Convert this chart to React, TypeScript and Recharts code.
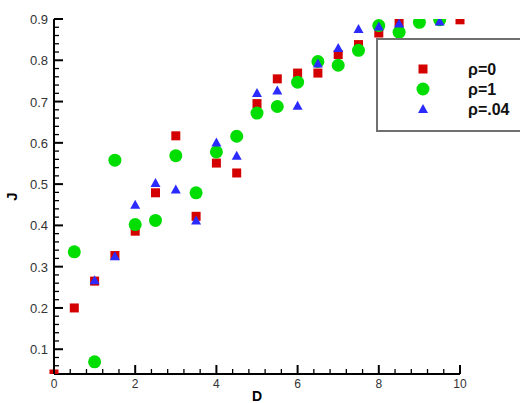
import React from "react";
import { ScatterChart, Scatter, XAxis, YAxis } from "recharts";

// D values and J values per series
const dRho0 = [0, 0.5, 1, 1.5, 2, 2.5, 3, 3.5, 4, 4.5, 5, 5.5, 6, 6.5, 7, 7.5, 8, 8.5, 9.5, 10];
const jRho0 = [0.04, 0.2, 0.265, 0.327, 0.386, 0.479, 0.617, 0.422, 0.551, 0.527, 0.695, 0.755, 0.769, 0.769, 0.814, 0.838, 0.866, 0.89, 0.906, 0.898];

const dRho1 = [0.5, 1, 1.5, 2, 2.5, 3, 3.5, 4, 4.5, 5, 5.5, 6, 6.5, 7, 7.5, 8, 8.5, 9, 9.5];
const jRho1 = [0.336, 0.0695, 0.558, 0.402, 0.412, 0.569, 0.479, 0.578, 0.616, 0.672, 0.688, 0.747, 0.797, 0.788, 0.824, 0.884, 0.868, 0.892, 0.898];

const dRho04 = [1, 1.5, 2, 2.5, 3, 3.5, 4, 4.5, 5, 5.5, 6, 6.5, 7, 7.5, 8, 8.5, 9.5];
const jRho04 = [0.267, 0.325, 0.45, 0.503, 0.487, 0.412, 0.601, 0.569, 0.721, 0.727, 0.69, 0.792, 0.83, 0.876, 0.882, 0.889, 0.894];

const seriesNames = ["ρ=0", "ρ=1", "ρ=.04"];
const seriesColors = ["#d40000", "#00dd00", "#2b2bff"];

const xMajor = [0, 2, 4, 6, 8, 10];
const yMajor = [0.1, 0.2, 0.3, 0.4, 0.5, 0.6, 0.7, 0.8, 0.9];

// minor ticks: every 0.4 on D, every 0.02 on J
const xTicks: number[] = [];
for (let i = 0; i <= 25; i++) xTicks.push(Math.round(i * 4) / 10);
const yTicks: number[] = [];
for (let i = 3; i <= 45; i++) yTicks.push(Math.round(i * 2) / 100);

const toRows = (ds: number[], js: number[]) => ds.map((d, i) => ({ d, j: js[i] }));

const Square = ({ cx, cy, fill }: any) => (
  <rect x={cx - 4.5} y={cy - 4.5} width={9} height={9} fill={fill} />
);
const Circle = ({ cx, cy, fill }: any) => <circle cx={cx} cy={cy} r={6.5} fill={fill} />;
const Triangle = ({ cx, cy, fill }: any) => (
  <polygon points={`${cx},${cy - 5} ${cx - 5},${cy + 4} ${cx + 5},${cy + 4}`} fill={fill} />
);
const shapes = [Square, Circle, Triangle];

const isMajor = (v: number, list: number[]) => list.some((m) => Math.abs(m - v) < 1e-6);

const XTick = ({ x, y, payload }: any) => {
  const major = isMajor(payload.value, xMajor);
  return (
    <g>
      <line x1={x} x2={x} y1={y} y2={y - (major ? 9 : 5)} stroke="#000" strokeWidth={major ? 2 : 1.3} />
      {major && (
        <text x={x} y={y + 14} textAnchor="middle" fontSize={12} fill="#333" fontFamily="Liberation Sans, Arial, sans-serif">
          {payload.value}
        </text>
      )}
    </g>
  );
};

const YTick = ({ x, y, payload }: any) => {
  const major = isMajor(payload.value, yMajor);
  return (
    <g>
      <line x1={x} x2={x + (major ? 9 : 5)} y1={y} y2={y} stroke="#000" strokeWidth={major ? 2 : 1.3} />
      {major && (
        <text x={x - 6} y={y + 5} textAnchor="end" fontSize={13} fill="#333" fontFamily="Liberation Sans, Arial, sans-serif">
          {payload.value.toFixed(1)}
        </text>
      )}
    </g>
  );
};

const YLabel = ({ viewBox }: any) => (
  <text
    transform={`translate(${viewBox.x + 17},${viewBox.y + viewBox.height / 2}) rotate(-90)`}
    textAnchor="middle"
    fontSize={15}
    fontWeight="bold"
    fill="#000"
    fontFamily="Liberation Sans, Arial, sans-serif"
  >
    J
  </text>
);

const XLabel = ({ viewBox }: any) => (
  <text
    x={viewBox.x + viewBox.width / 2}
    y={viewBox.y + 27}
    textAnchor="middle"
    fontSize={14}
    fontWeight="bold"
    fill="#000"
    fontFamily="Liberation Sans, Arial, sans-serif"
  >
    D
  </text>
);

const LegendBox = () => (
  <svg width={150} height={95} style={{ position: "absolute", left: 376, top: 38 }}>
    <rect x={1} y={1} width={160} height={92} fill="#fff" stroke="#707070" strokeWidth={2} />
    {seriesNames.map((name, i) => {
      const Shape = shapes[i];
      const cy = 31 + i * 20;
      return (
        <g key={name}>
          <Shape cx={47} cy={cy} fill={seriesColors[i]} />
          <text x={92} y={cy + 6} fontSize={16} fontWeight="bold" fill="#111" fontFamily="Liberation Sans, Arial, sans-serif">
            {name}
          </text>
        </g>
      );
    })}
  </svg>
);

export default function App() {
  const data = [toRows(dRho0, jRho0), toRows(dRho1, jRho1), toRows(dRho04, jRho04)];
  return (
    <div style={{ position: "absolute", left: 0, top: 0, width: 520, height: 403, background: "#fff" }}>
      <ScatterChart width={520} height={403} margin={{ top: 19, right: 60, bottom: 0, left: 0 }}>
        <XAxis
          dataKey="d"
          type="number"
          domain={[0, 10]}
          ticks={xTicks}
          interval={0}
          height={29}
          tickLine={false}
          tickSize={0}
          tickMargin={0}
          tick={<XTick />}
          axisLine={{ stroke: "#000", strokeWidth: 2 }}
          label={<XLabel />}
        />
        <YAxis
          dataKey="j"
          type="number"
          domain={[0.04, 0.9]}
          allowDataOverflow
          ticks={yTicks}
          interval={0}
          width={54}
          tickLine={false}
          tickSize={0}
          tickMargin={0}
          tick={<YTick />}
          axisLine={{ stroke: "#000", strokeWidth: 2 }}
          label={<YLabel />}
        />
        {data.map((rows, i) => (
          <Scatter
            key={seriesNames[i]}
            name={seriesNames[i]}
            data={rows}
            fill={seriesColors[i]}
            shape={shapes[i]}
            isAnimationActive={false}
          />
        ))}
      </ScatterChart>
      <LegendBox />
    </div>
  );
}
